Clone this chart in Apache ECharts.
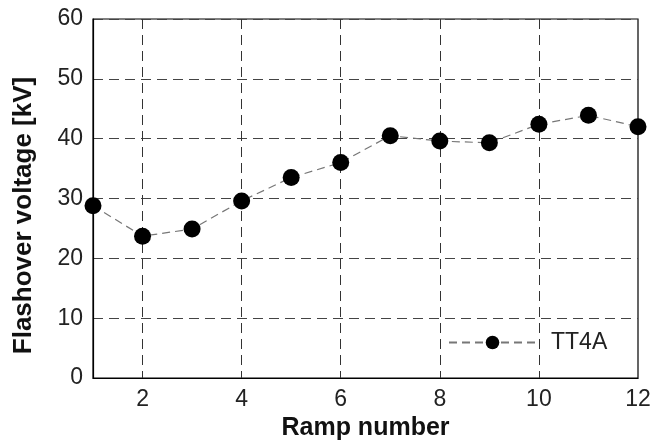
<!DOCTYPE html>
<html><head><meta charset="utf-8">
<script src="https://cdn.jsdelivr.net/npm/echarts@6/dist/echarts.min.js"></script>
<style>html,body{margin:0;padding:0;background:#fff}#c{width:654px;height:443px}</style>
</head><body><div id="c"></div>
<script>
const ramps = ['1','2','3','4','5','6','7','8','9','10','11','12'];
const tt4a = [28.8, 23.7, 24.9, 29.6, 33.5, 36.0, 40.5, 39.6, 39.3, 42.4, 43.9, 42.0];
const seriesName = 'TT4A';
const xTitle = 'Ramp number';
const yTitle = 'Flashover voltage [kV]';

const chart = echarts.init(document.getElementById('c'));
const font = 'Liberation Sans, Arial, sans-serif';
chart.setOption({
  animation: false,
  backgroundColor: '#fff',
  grid: {left: 93, right: 16, top: 19, bottom: 65, show: true, borderColor: '#000', borderWidth: 1.2,
         containLabel: false, outerBoundsMode: 'none'},
  legend: {
    data: [seriesName], left: 443, top: 326, itemWidth: 87, itemHeight: 17, itemGap: 10,
    textStyle: {fontFamily: font, fontSize: 23, color: '#222', padding: [0,0,0,10]}
  },
  xAxis: {
    type: 'category', data: ramps, boundaryGap: false,
    name: xTitle, nameLocation: 'middle', nameGap: 31,
    nameTextStyle: {fontFamily: font, fontSize: 25, fontWeight: 'bold', color: '#111'},
    axisLine: {show: true, lineStyle: {color: '#000', width: 1.2}},
    axisTick: {show: false},
    axisLabel: {interval: (i) => i % 2 === 1, fontFamily: font, fontSize: 23, color: '#222', margin: 10},
    splitLine: {show: true, interval: (i) => i % 2 === 1 && i < ramps.length - 1, lineStyle: {color: '#333', type: [10, 6], width: 1}}
  },
  yAxis: {
    type: 'value', min: 0, max: 60, interval: 10,
    name: yTitle, nameLocation: 'middle', nameGap: 56, nameRotate: 90,
    nameTextStyle: {fontFamily: font, fontSize: 26, fontWeight: 'bold', color: '#111', padding: [0, 34, 0, 0]},
    axisLine: {show: true, lineStyle: {color: '#000', width: 1.2}},
    axisTick: {show: false},
    axisLabel: {fontFamily: font, fontSize: 23, color: '#222', margin: 10},
    splitLine: {show: true, lineStyle: {color: '#444', type: [10, 6], width: 1}}
  },
  series: [{
    name: seriesName, type: 'line', data: tt4a,
    symbol: 'circle', symbolSize: 17,
    itemStyle: {color: '#000'},
    lineStyle: {color: '#777', width: 1.2, type: [8, 5]},
    z: 5
  }]
});
</script></body></html>
